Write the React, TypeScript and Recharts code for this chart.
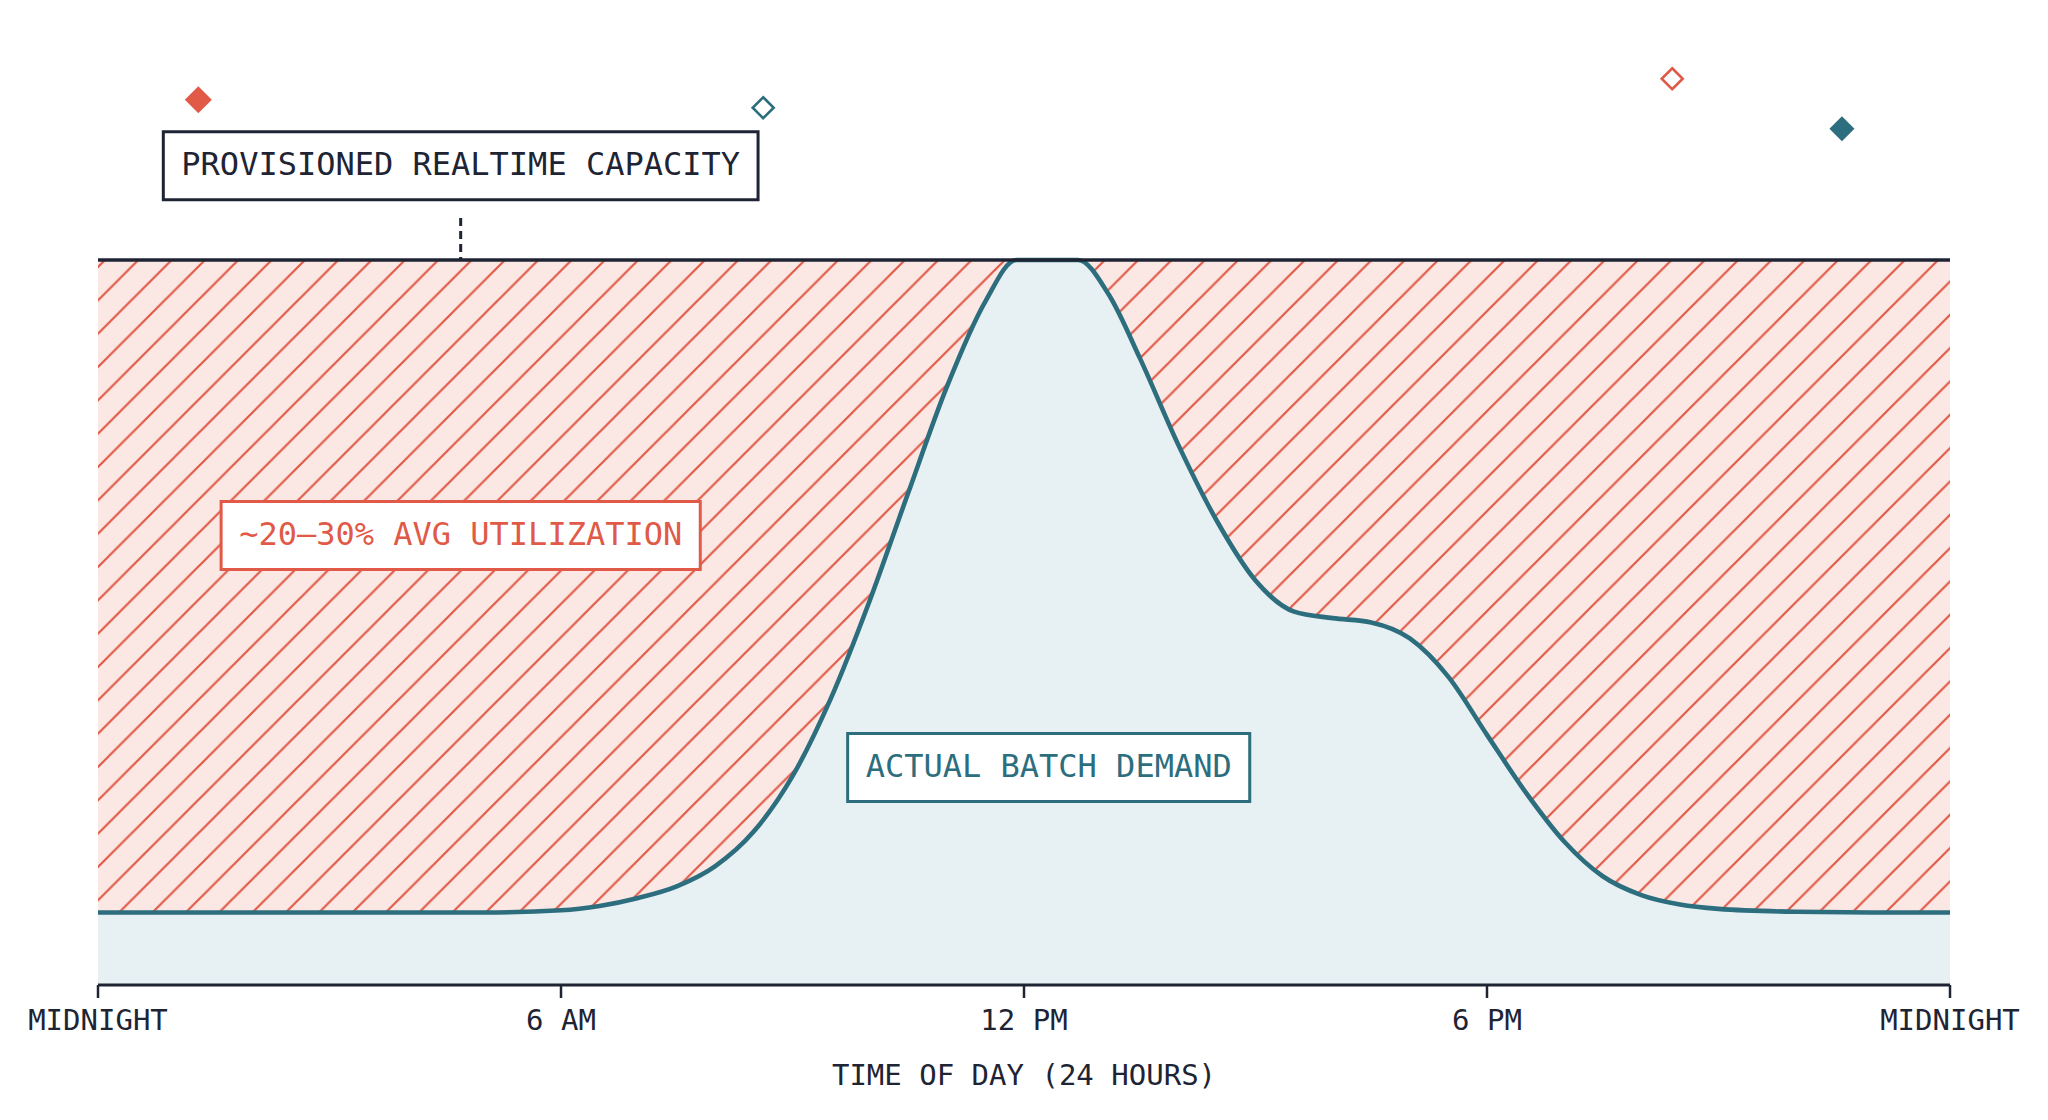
import React from 'react';
import { ComposedChart, Area, XAxis, YAxis, ReferenceLine, ReferenceDot, Scatter } from 'recharts';

const HOURS = [0, 3, 5, 6, 6.5, 7, 7.5, 8, 8.5, 9, 9.5, 10, 10.5, 11, 11.5, 11.9, 12.7, 13.1, 13.5, 14, 14.5, 15, 15.5, 16, 16.5, 17, 17.5, 18, 18.5, 19, 19.5, 20, 20.5, 21, 22, 23, 24];
const DEMAND = [10, 10, 10, 10.3, 10.9, 12.0, 13.6, 16.4, 21.2, 28.8, 39.6, 53, 67.9, 82.5, 94.3, 100, 100, 95.2, 86.5, 74.5, 64, 55.8, 51.5, 50.6, 50, 47.8, 42.5, 34.5, 26.6, 19.8, 15, 12.4, 11.1, 10.5, 10.1, 10, 10];
const CAPACITY = 100;

const TICK_HOURS = [0, 6, 12, 18, 24];
const TICK_LABELS = ['MIDNIGHT', '6 AM', '12 PM', '6 PM', 'MIDNIGHT'];
const X_TITLE = 'TIME OF DAY (24 HOURS)';

const RED_FILLED = [{ hour: 1.3, value: 122.1 }];
const TEAL_OPEN = [{ hour: 8.62, value: 121.0 }];
const RED_OPEN = [{ hour: 20.4, value: 125.0 }];
const TEAL_FILLED = [{ hour: 22.6, value: 118.1 }];

const NOTE_CAPACITY = { text: 'PROVISIONED REALTIME CAPACITY', hour: 4.7, value: 113 };
const NOTE_UTIL = { text: '~20–30% AVG UTILIZATION', hour: 4.7, value: 62 };
const NOTE_DEMAND = { text: 'ACTUAL BATCH DEMAND', hour: 12.32, value: 30 };
const LEADER = [{ x: 4.7, y: 105.8 }, { x: 4.7, y: 100 }];

const NAVY = '#1e2433';
const RED = '#e05a47';
const TEAL = '#2d6e7e';
const PINK = '#fbe8e4';
const ICE = '#e7f0f3';
const FONT = "'DejaVu Sans Mono', monospace";

const table = HOURS.map((h, i) => ({ hour: h, demand: DEMAND[i], capacity: CAPACITY }));

const diamond = (size: number, color: string, filled: boolean) => (props: any) => {
  const { cx, cy } = props;
  if (cx == null || cy == null) return <g />;
  const r = size / 2;
  const d = `M${cx},${cy - r} L${cx + r},${cy} L${cx},${cy + r} L${cx - r},${cy} Z`;
  return filled ? (
    <path d={d} fill={color} stroke="none" />
  ) : (
    <path d={d} fill="#fff" stroke={color} strokeWidth={2.6} />
  );
};

const noteBox = (text: string, color: string) => (props: any) => {
  const { cx, cy } = props;
  if (cx == null || cy == null) return <g />;
  const w = text.length * 0.6021 * 32 + 36;
  const h = 68;
  return (
    <g>
      <rect x={cx - w / 2} y={cy - h / 2} width={w} height={h} fill="#ffffff" stroke={color} strokeWidth={3} />
      <text x={cx} y={cy + 9} textAnchor="middle" fontFamily={FONT} fontSize={32} fill={color}>
        {text}
      </text>
    </g>
  );
};

const AxisTitle = (props: any) => {
  const vb = props.viewBox || {};
  const cx = (vb.x ?? 0) + (vb.width ?? 0) / 2;
  return (
    <text x={cx} y={1085} textAnchor="middle" fontFamily={FONT} fontSize={29} fill={NAVY}>
      {X_TITLE}
    </text>
  );
};

export default function App() {
  return (
    <div style={{ position: 'absolute', left: 0, top: 0, width: 2048, height: 1120, background: '#fff' }}>
      <ComposedChart width={2048} height={1120} data={table} margin={{ top: 42.5, right: 98, bottom: 35, left: 98 }}>
        <defs>
          <pattern id="hatch" patternUnits="userSpaceOnUse" width={33.33} height={33.33} x={0} y={31.7}>
            <rect width={33.33} height={33.33} fill={PINK} />
            <path d="M0,33.33 L33.33,0 M-8,8 L8,-8 M25.33,41.33 L41.33,25.33" stroke={RED} strokeWidth={2.2} />
          </pattern>
        </defs>
        <XAxis
          dataKey="hour"
          type="number"
          domain={[0, 24]}
          ticks={TICK_HOURS}
          interval={0}
          height={100}
          tickSize={13}
          tickMargin={11}
          tickFormatter={(v: number) => TICK_LABELS[TICK_HOURS.indexOf(v)] ?? ''}
          axisLine={{ stroke: NAVY, strokeWidth: 3 }}
          tickLine={{ stroke: NAVY, strokeWidth: 2.5 }}
          tick={{ fontFamily: FONT, fontSize: 29, fill: NAVY }}
          label={<AxisTitle />}
        />
        <YAxis type="number" domain={[0, 130]} hide />
        <Area
          type="linear"
          dataKey="capacity"
          stroke="none"
          fill="url(#hatch)"
          fillOpacity={1}
          isAnimationActive={false}
          dot={false}
          activeDot={false}
        />
        <Area
          type="monotone"
          dataKey="demand"
          stroke={TEAL}
          strokeWidth={4.6}
          fill={ICE}
          fillOpacity={1}
          isAnimationActive={false}
          dot={false}
          activeDot={false}
        />
        <ReferenceLine y={CAPACITY} stroke={NAVY} strokeWidth={3.5} />
        <ReferenceLine segment={LEADER} stroke={NAVY} strokeWidth={3} strokeDasharray="8 5" />
        <ReferenceDot x={NOTE_CAPACITY.hour} y={NOTE_CAPACITY.value} r={0} ifOverflow="visible" shape={noteBox(NOTE_CAPACITY.text, NAVY)} />
        <ReferenceDot x={NOTE_UTIL.hour} y={NOTE_UTIL.value} r={0} ifOverflow="visible" shape={noteBox(NOTE_UTIL.text, RED)} />
        <ReferenceDot x={NOTE_DEMAND.hour} y={NOTE_DEMAND.value} r={0} ifOverflow="visible" shape={noteBox(NOTE_DEMAND.text, TEAL)} />
        <Scatter data={RED_FILLED} dataKey="value" isAnimationActive={false} shape={diamond(27, RED, true)} />
        <Scatter data={TEAL_OPEN} dataKey="value" isAnimationActive={false} shape={diamond(21, TEAL, false)} />
        <Scatter data={RED_OPEN} dataKey="value" isAnimationActive={false} shape={diamond(21, RED, false)} />
        <Scatter data={TEAL_FILLED} dataKey="value" isAnimationActive={false} shape={diamond(25, TEAL, true)} />
      </ComposedChart>
    </div>
  );
}
